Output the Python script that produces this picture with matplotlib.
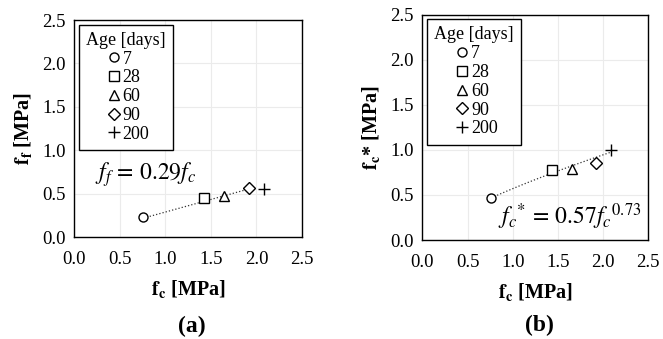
import numpy as np
import matplotlib.pyplot as plt
from matplotlib.legend_handler import HandlerLine2D

# --------------------
# data
# --------------------
ages = ['7', '28', '60', '90', '200']
markers = ['o', 's', '^', 'D', '+']
fc = [0.76, 1.43, 1.65, 1.92, 2.08]
ff = [0.23, 0.45, 0.47, 0.57, 0.56]
fc_b = [0.76, 1.43, 1.65, 1.92, 2.09]
fcs = [0.47, 0.78, 0.79, 0.86, 1.00]
ticks = [0.0, 0.5, 1.0, 1.5, 2.0, 2.5]

plt.rcParams['font.family'] = 'Liberation Serif'
plt.rcParams['mathtext.fontset'] = 'stix'

fig = plt.figure(figsize=(6.63, 3.39), dpi=100)
ax1 = fig.add_axes([0.1116, 0.300, 0.3439, 0.641])
ax2 = fig.add_axes([0.637, 0.292, 0.3409, 0.6646])


def style(ax, ylab):
    ax.set_xlim(0, 2.5)
    ax.set_ylim(0, 2.5)
    ax.set_xticks(ticks)
    ax.set_yticks(ticks)
    ax.set_xticklabels([f'{t:.1f}' for t in ticks])
    ax.set_yticklabels([f'{t:.1f}' for t in ticks])
    ax.tick_params(length=0, labelsize=13.5)
    ax.tick_params(axis='x', pad=10)
    ax.tick_params(axis='y', pad=6)
    ax.grid(True, color='#ebebeb', lw=0.8)
    ax.set_axisbelow(True)
    for s in ax.spines.values():
        s.set_color('black')
        s.set_linewidth(1.0)
    ax.set_xlabel(r'$\mathbf{f_c}$ [MPa]', fontsize=14.5, fontweight='bold', labelpad=7)
    ax.set_ylabel(ylab, fontsize=14.5, fontweight='bold', labelpad=6)


def points(ax, xs, ys):
    for x, y, m, lab in zip(xs, ys, markers, ages):
        if m == '+':
            ax.plot(x, y, m, color='black', ms=9, mew=1.0, label=lab)
        else:
            ax.plot(x, y, m, mfc='white', mec='black', ms=6.5,
                    mew=1.0, label=lab, ls='none')
    leg = ax.legend(title='Age [days]', loc='upper left', fontsize=13,
                    title_fontsize=13, fancybox=False, edgecolor='black',
                    handletextpad=0.15, handlelength=1.9, labelspacing=0.1,
                    borderpad=0.4, borderaxespad=0.25, alignment='left',
                    framealpha=1,
                    handler_map={plt.Line2D: HandlerLine2D(xpad=1.2)})
    leg.get_frame().set_linewidth(1.0)


# (a)
style(ax1, r'$\mathbf{f_f}$ [MPa]')
xa = np.linspace(min(fc), 1.95, 50)
ax1.plot(xa, 0.29 * xa, ls=':', color='#333333', lw=0.9, zorder=1)
points(ax1, fc, ff)
ax1.text(0.23, 0.72, r'$f_f\,=\,0.29f_c$', fontsize=17, va='center')

# (b)
style(ax2, r'$\mathbf{f_c}$* [MPa]')
xb = np.linspace(min(fc_b), max(fc_b), 50)
ax2.plot(xb, 0.57 * xb ** 0.73, ls=':', color='#333333', lw=0.9, zorder=1)
points(ax2, fc_b, fcs)
ax2.text(0.84, 0.26, r'$f_c{}^{*}\,=\,0.57f_c{}^{0.73}$', fontsize=17, va='center')

fig.text(191.7 / 663, 1 - 326 / 339, '(a)', fontsize=17, fontweight='bold',
         ha='center', va='center')
fig.text(539 / 663, 1 - 325 / 339, '(b)', fontsize=17, fontweight='bold',
         ha='center', va='center')

fig.savefig('out.png', dpi=100)
